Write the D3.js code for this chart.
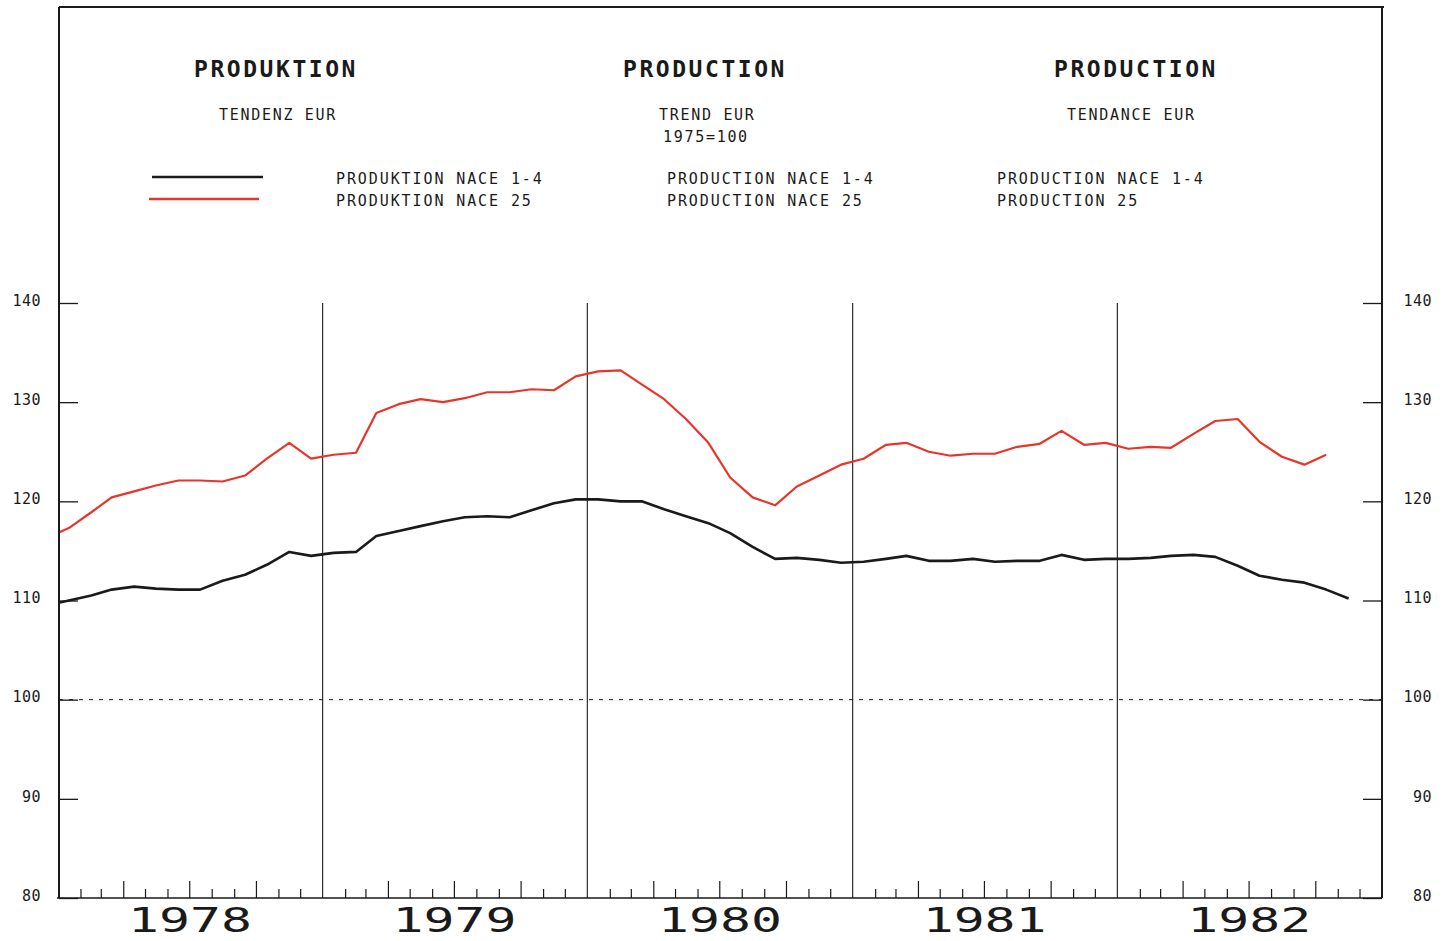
<!DOCTYPE html>
<html>
<head>
<meta charset="utf-8">
<script src="https://cdn.jsdelivr.net/npm/d3@7"></script>
<style>
  html, body { margin: 0; padding: 0; background: #ffffff; }
  svg { display: block; }
  text { font-family: "DejaVu Sans Mono", monospace; fill: #1a1a1a; }
</style>
</head>
<body>
<svg id="chart" width="1450" height="941"></svg>
<script>
// ---------------- DATA ----------------
const years = ["1978", "1979", "1980", "1981", "1982"];
const yTicks = [80, 90, 100, 110, 120, 130, 140];
const firstMonth = [1977, 11]; // December 1977 (year, monthIndex)

// PRODUKTION NACE 1-4 (black), monthly from Dec 1977
const nace14 = [109.5,
  110.0, 110.5, 111.1, 111.4, 111.2, 111.1, 111.1, 112.0, 112.6, 113.6, 114.9, 114.5,
  114.8, 114.9, 116.5, 117.0, 117.5, 118.0, 118.4, 118.5, 118.4, 119.1, 119.8, 120.2,
  120.2, 120.0, 120.0, 119.2, 118.5, 117.8, 116.8, 115.4, 114.2, 114.3, 114.1, 113.8,
  113.9, 114.2, 114.5, 114.0, 114.0, 114.2, 113.9, 114.0, 114.0, 114.6, 114.1, 114.2,
  114.2, 114.3, 114.5, 114.6, 114.4, 113.5, 112.5, 112.1, 111.8, 111.1, 110.2];

// PRODUKTION NACE 25 (red), monthly from Dec 1977
const nace25 = [116.3,
  117.3, 118.9, 120.4, 121.0, 121.6, 122.1, 122.1, 122.0, 122.6, 124.3, 125.9, 124.3,
  124.7, 124.9, 128.9, 129.8, 130.3, 130.0, 130.4, 131.0, 131.0, 131.3, 131.2, 132.6,
  133.1, 133.2, 131.8, 130.3, 128.3, 125.9, 122.4, 120.4, 119.6, 121.5, 122.6, 123.7,
  124.3, 125.7, 125.9, 125.0, 124.6, 124.8, 124.8, 125.5, 125.8, 127.1, 125.7, 125.9,
  125.3, 125.5, 125.4, 126.8, 128.1, 128.3, 126.0, 124.5, 123.7, 124.7];

const titles = [
  { title: "PRODUKTION", sub: ["TENDENZ EUR"], legend: ["PRODUKTION NACE 1-4", "PRODUKTION NACE 25"] },
  { title: "PRODUCTION", sub: ["TREND EUR", "1975=100"], legend: ["PRODUCTION NACE 1-4", "PRODUCTION NACE 25"] },
  { title: "PRODUCTION", sub: ["TENDANCE EUR"], legend: ["PRODUCTION NACE 1-4", "PRODUCTION 25"] }
];

// ---------------- LAYOUT ----------------
const L = 59, R = 1382, T = 7, B = 898;
const svg = d3.select("#chart");
const ink = "#1a1a1a";
const red = "#e8352b";

const x = d3.scaleTime()
  .domain([new Date(1978, 0, 1), new Date(1983, 0, 1)])
  .range([58, R]);
const y = d3.scaleLinear().domain([80, 140]).range([B, 303]);

const toDate = i => new Date(firstMonth[0], firstMonth[1] + i, 16);

// clip
svg.append("defs").append("clipPath").attr("id", "plotclip")
  .append("rect").attr("x", L + 1).attr("y", T).attr("width", R - L - 1).attr("height", B - T);

// frame
svg.append("line").attr("x1", L).attr("x2", R + 2).attr("y1", T).attr("y2", T)
  .attr("stroke", ink).attr("stroke-width", 2);
svg.append("line").attr("x1", L).attr("x2", L).attr("y1", T).attr("y2", B)
  .attr("stroke", ink).attr("stroke-width", 2);
svg.append("line").attr("x1", R).attr("x2", R).attr("y1", T).attr("y2", B)
  .attr("stroke", ink).attr("stroke-width", 2);
svg.append("line").attr("x1", 57).attr("x2", R).attr("y1", B).attr("y2", B)
  .attr("stroke", ink).attr("stroke-width", 1.6);

// year dividers
svg.append("g").selectAll("line")
  .data(years.slice(1).map(yr => new Date(+yr, 0, 1)))
  .join("line")
  .attr("x1", d => x(d)).attr("x2", d => x(d))
  .attr("y1", y(140)).attr("y2", B)
  .attr("stroke", ink).attr("stroke-width", 1.1);

// dashed 100 line
svg.append("line")
  .attr("x1", L).attr("x2", R).attr("y1", y(100)).attr("y2", y(100))
  .attr("stroke", ink).attr("stroke-width", 1).attr("stroke-dasharray", "4,6");

// y axes
const leftAxis = d3.axisLeft(y).tickValues(yTicks).tickSize(-19).tickPadding(18).tickFormat(d3.format("d"));
const gl = svg.append("g").attr("transform", `translate(${L},0)`).call(leftAxis);
const rightAxis = d3.axisRight(y).tickValues(yTicks).tickSize(-19).tickPadding(18).tickFormat(d3.format("d"));
const gr = svg.append("g").attr("transform", `translate(${R},0)`).call(rightAxis);
[gl, gr].forEach(g => {
  g.select(".domain").remove();
  g.selectAll(".tick line").attr("stroke", ink).attr("stroke-width", 1.3);
  g.selectAll(".tick text")
    .attr("font-family", "DejaVu Sans Mono").attr("font-size", 15)
    .attr("letter-spacing", 0.5)
    .attr("fill", ink).attr("dy", "0.15em");
});
gr.selectAll(".tick text").attr("text-anchor", "end").attr("x", 50);

// bottom month ticks
const months = d3.timeMonth.range(new Date(1978, 1, 1), new Date(1983, 0, 1))
  .filter(d => d.getMonth() !== 0);
const minor = months.filter(d => d.getMonth() % 3 !== 0);
const major = months.filter(d => d.getMonth() % 3 === 0);
[[minor, 9], [major, 17]].forEach(([vals, len]) => {
  const g = svg.append("g").attr("transform", `translate(0,${B})`)
    .call(d3.axisBottom(x).tickValues(vals).tickSize(-len).tickSizeOuter(0).tickFormat(""));
  g.select(".domain").remove();
  g.selectAll(".tick line").attr("stroke", ink).attr("stroke-width", 1.2);
});

// year labels
svg.append("g").selectAll("text")
  .data(years)
  .join("text")
  .attr("x", d => x(new Date(+d, 6, 2)))
  .attr("y", 932)
  .attr("text-anchor", "middle")
  .attr("font-family", "DejaVu Sans")
  .attr("font-size", 33)
  .attr("textLength", 124)
  .attr("lengthAdjust", "spacingAndGlyphs")
  .attr("fill", ink)
  .text(d => d);

// lines
const line = d3.line().x((d, i) => x(toDate(i))).y(d => y(d));
const plot = svg.append("g").attr("clip-path", "url(#plotclip)");
plot.append("path").datum(nace25).attr("d", line)
  .attr("fill", "none").attr("stroke", red).attr("stroke-width", 2.2).attr("stroke-linejoin", "round");
plot.append("path").datum(nace14).attr("d", line)
  .attr("fill", "none").attr("stroke", ink).attr("stroke-width", 2.6).attr("stroke-linejoin", "round");

// header texts
const blocks = [
  { tx: 194, sx: [219], lx: 336 },
  { tx: 623, sx: [659, 663], lx: 667 },
  { tx: 1054, sx: [1067], lx: 997 }
];
titles.forEach((t, k) => {
  const b = blocks[k];
  svg.append("text").attr("x", b.tx).attr("y", 77)
    .attr("font-size", 23).attr("letter-spacing", 2.55).attr("font-weight", "bold")
    .attr("textLength", 164).attr("lengthAdjust", "spacingAndGlyphs")
    .text(t.title);
  t.sub.forEach((s, j) => {
    svg.append("text").attr("x", b.sx[j]).attr("y", 120 + j * 22)
      .attr("font-size", 15).attr("letter-spacing", 1.7)
      .text(s);
  });
  t.legend.forEach((s, j) => {
    svg.append("text").attr("x", b.lx).attr("y", 184 + j * 22)
      .attr("font-size", 15).attr("letter-spacing", 1.9)
      .text(s);
  });
});

// legend lines
svg.append("line").attr("x1", 152).attr("x2", 263).attr("y1", 177).attr("y2", 177)
  .attr("stroke", ink).attr("stroke-width", 2.4);
svg.append("line").attr("x1", 149).attr("x2", 259).attr("y1", 199).attr("y2", 199)
  .attr("stroke", red).attr("stroke-width", 2.4);
</script>
</body>
</html>
